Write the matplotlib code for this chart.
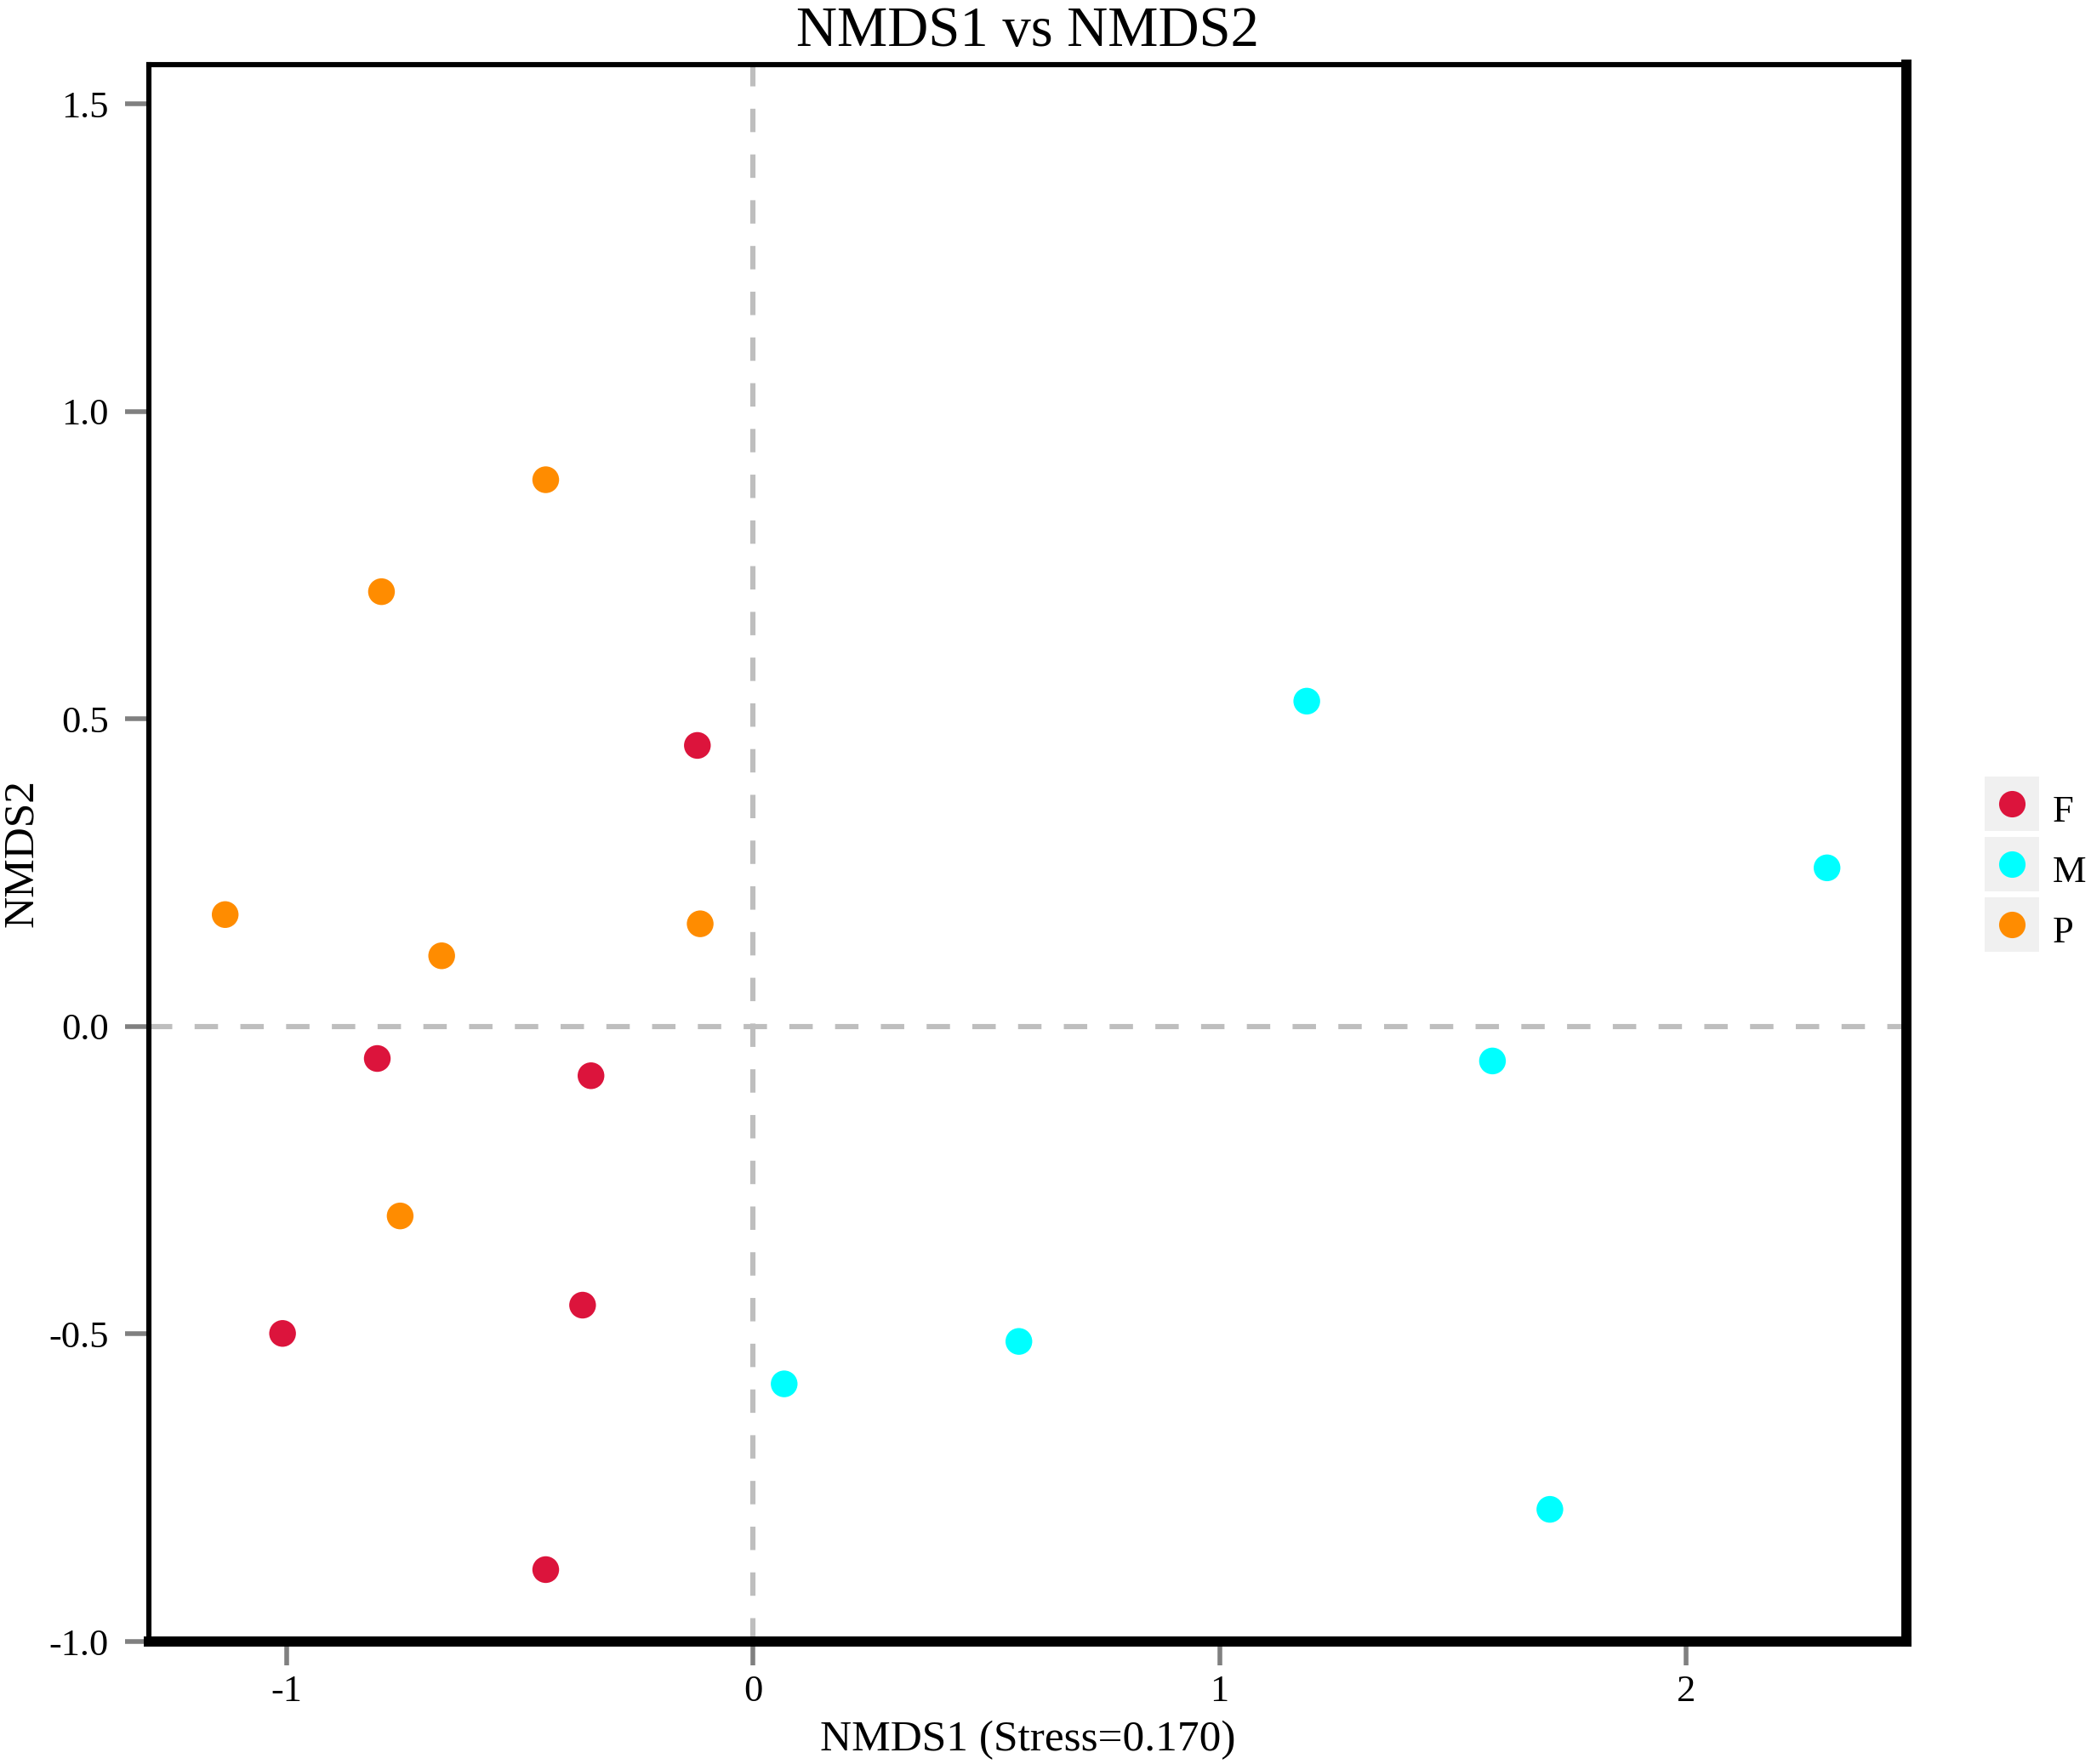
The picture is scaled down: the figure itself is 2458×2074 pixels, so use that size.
import matplotlib
matplotlib.use("Agg")
import matplotlib.pyplot as plt
from matplotlib.lines import Line2D
from matplotlib.legend_handler import HandlerTuple

# NMDS scores
groups = ["F", "M", "P"]
colors = {"F": "#DC143C", "M": "#00FFFF", "P": "#FF8C00"}

f_x = [-0.119, -0.805, -0.347, -0.365, -1.008, -0.444]
f_y = [0.457, -0.052, -0.080, -0.453, -0.499, -0.883]

m_x = [1.187, 2.302, 1.585, 0.570, 0.067, 1.708]
m_y = [0.529, 0.258, -0.056, -0.512, -0.581, -0.785]

p_x = [-0.444, -0.796, -1.131, -0.667, -0.113, -0.756]
p_y = [0.889, 0.707, 0.182, 0.115, 0.167, -0.308]

x_ticks = [-1, 0, 1, 2]
x_ticklabels = ["-1", "0", "1", "2"]
y_ticks = [-1.0, -0.5, 0.0, 0.5, 1.0, 1.5]
y_ticklabels = ["-1.0", "-0.5", "0.0", "0.5", "1.0", "1.5"]

plt.rcParams['font.family'] = ['Liberation Serif', 'DejaVu Serif']
plt.rcParams['axes.unicode_minus'] = False

fig = plt.figure(figsize=(12.29, 10.37), dpi=200)
ax = fig.add_axes([0.0712, 0.0694, 0.9117 - 0.0712, 0.9634 - 0.0694])

# reference lines through origin
dash_kw = dict(color='#bebebe', lw=2.2, linestyle=(0, (4.5, 4.3)), zorder=1)
ax.axhline(0, **dash_kw)
ax.axvline(0, **dash_kw)

data = {"F": (f_x, f_y), "M": (m_x, m_y), "P": (p_x, p_y)}
for g in groups:
    xs, ys = data[g]
    ax.scatter(xs, ys, s=128, color=colors[g], edgecolors='none', zorder=3)

ax.set_xlim(-1.2945, 2.472)
ax.set_ylim(-1.0, 1.564)
ax.set_xticks(x_ticks)
ax.set_xticklabels(x_ticklabels)
ax.set_yticks(y_ticks)
ax.set_yticklabels(y_ticklabels)

ax.tick_params(axis='x', direction='out', length=10, width=2, color='#808080',
               labelsize=16, pad=4)
ax.tick_params(axis='y', direction='out', length=10, width=2, color='#808080',
               labelsize=16, pad=7)

# heavier frame on right/bottom, as in the original
ax.spines['top'].set_linewidth(2.2)
ax.spines['left'].set_linewidth(2.2)
ax.spines['right'].set_linewidth(4.3)
ax.spines['bottom'].set_linewidth(4.3)
for sp in ax.spines.values():
    sp.set_color('black')
    sp.set_zorder(4)

ax.set_title("NMDS1 vs NMDS2", fontsize=24, pad=8)
ax.set_xlabel("NMDS1 (Stress=0.170)", fontsize=18.5, labelpad=5)
ax.set_ylabel("NMDS2", fontsize=18.5, labelpad=3)

# legend with grey key boxes
handles = []
for g in groups:
    box = Line2D([], [], marker='s', ms=22.7, color='#f0f0f0', mew=0, ls='')
    dot = Line2D([], [], marker='o', ms=11.2, color=colors[g], mew=0, ls='')
    handles.append((box, dot))

fig.legend(handles, groups, handler_map={tuple: HandlerTuple(ndivide=1)},
           loc='upper left', bbox_to_anchor=(2333 / 2458, 1 - 925 / 2074),
           bbox_transform=fig.transFigure, frameon=False, fontsize=16,
           borderpad=0, borderaxespad=0, handlelength=1.42, handleheight=1.42,
           handletextpad=0.38, labelspacing=0.43)

fig.savefig("out.png", dpi=200)
